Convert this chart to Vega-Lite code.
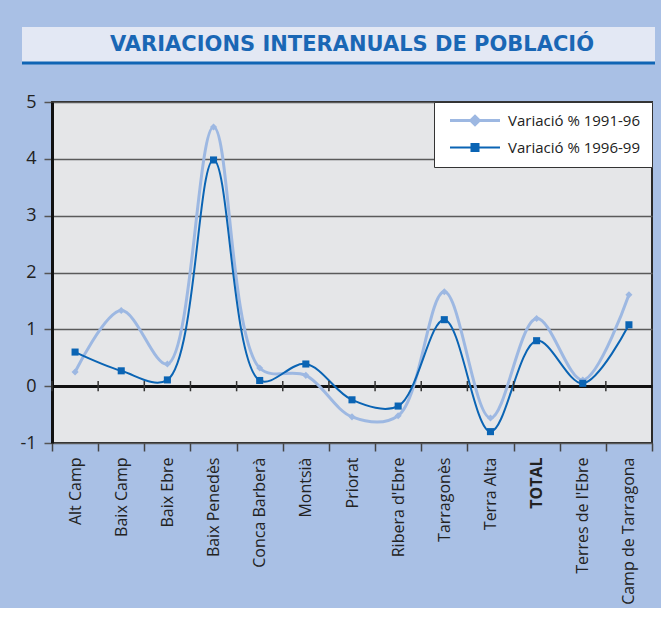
{
  "$schema": "https://vega.github.io/schema/vega-lite/v6.json",
  "background": "#a9c0e5",
  "padding": {"left": 18, "top": 27, "right": 4, "bottom": 2},
  "config": {
    "font": "Open Sans",
    "view": {"stroke": null},
    "axisX": {
      "labelAngle": -90,
      "tickBand": "extent",
      "labelFontSize": 16,
      "labelColor": "#222",
      "labelPadding": 6,
      "tickSize": 8,
      "tickColor": "#444",
      "tickWidth": 1.5,
      "domain": false,
      "grid": false
    },
    "axisY": {
      "labelFontSize": 18,
      "labelColor": "#222",
      "labelPadding": 8,
      "tickSize": 8,
      "tickColor": "#555",
      "tickWidth": 1.5,
      "domainColor": "#111",
      "domainWidth": 3,
      "grid": true
    }
  },
  "spacing": 27,
  "columns": 1,
  "align": "none",
  "resolve": {"scale": {"x": "independent", "y": "independent", "color": "independent", "fill": "independent", "shape": "independent", "strokeWidth": "independent"}, "legend": {"color": "independent"}},
  "concat": [
    {
      "width": 600,
      "height": 36,
      "view": {"fill": null, "stroke": null},
      "data": {"values": [{"t": "VARIACIONS INTERANUALS DE POBLACIÓ"}]},
      "layer": [
        {
          "mark": {"type": "rect", "fill": "#e3e8f4", "clip": false},
          "encoding": {
            "x": {"datum": -5, "type": "quantitative", "scale": {"domain": [0, 100]}, "axis": null},
            "x2": {"datum": 100.5}
          }
        },
        {
          "mark": {"type": "rule", "stroke": "#0f64b4", "strokeWidth": 3},
          "encoding": {
            "x": {"datum": -5, "type": "quantitative", "axis": null},
            "x2": {"datum": 100.5},
            "y": {"datum": 0, "type": "quantitative", "scale": {"domain": [0, 1]}, "axis": null}
          }
        },
        {
          "mark": {"type": "text", "font": "DejaVu Sans", "fontWeight": "bold", "fontSize": 21, "color": "#1a67b5", "align": "center", "baseline": "middle"},
          "encoding": {"text": {"field": "t"}}
        }
      ]
    },
    {
      "width": 600,
      "height": 341,
      "view": {"fill": "#e5e6e8", "stroke": "#2a2a2a", "strokeWidth": 2},
      "data": {
        "values": [
          {"region": "Alt Camp", "series": "Variació % 1991-96", "value": 0.25},
          {"region": "Baix Camp", "series": "Variació % 1991-96", "value": 1.33},
          {"region": "Baix Ebre", "series": "Variació % 1991-96", "value": 0.39},
          {"region": "Baix Penedès", "series": "Variació % 1991-96", "value": 4.56},
          {"region": "Conca Barberà", "series": "Variació % 1991-96", "value": 0.32},
          {"region": "Montsià", "series": "Variació % 1991-96", "value": 0.19},
          {"region": "Priorat", "series": "Variació % 1991-96", "value": -0.54},
          {"region": "Ribera d'Ebre", "series": "Variació % 1991-96", "value": -0.52},
          {"region": "Tarragonès", "series": "Variació % 1991-96", "value": 1.66},
          {"region": "Terra Alta", "series": "Variació % 1991-96", "value": -0.56},
          {"region": "TOTAL", "series": "Variació % 1991-96", "value": 1.19},
          {"region": "Terres de l'Ebre", "series": "Variació % 1991-96", "value": 0.11},
          {"region": "Camp de Tarragona", "series": "Variació % 1991-96", "value": 1.61},
          {"region": "Alt Camp", "series": "Variació % 1996-99", "value": 0.6},
          {"region": "Baix Camp", "series": "Variació % 1996-99", "value": 0.27},
          {"region": "Baix Ebre", "series": "Variació % 1996-99", "value": 0.11},
          {"region": "Baix Penedès", "series": "Variació % 1996-99", "value": 3.98},
          {"region": "Conca Barberà", "series": "Variació % 1996-99", "value": 0.1},
          {"region": "Montsià", "series": "Variació % 1996-99", "value": 0.39},
          {"region": "Priorat", "series": "Variació % 1996-99", "value": -0.24},
          {"region": "Ribera d'Ebre", "series": "Variació % 1996-99", "value": -0.35},
          {"region": "Tarragonès", "series": "Variació % 1996-99", "value": 1.17},
          {"region": "Terra Alta", "series": "Variació % 1996-99", "value": -0.8},
          {"region": "TOTAL", "series": "Variació % 1996-99", "value": 0.8},
          {"region": "Terres de l'Ebre", "series": "Variació % 1996-99", "value": 0.05},
          {"region": "Camp de Tarragona", "series": "Variació % 1996-99", "value": 1.08}
        ]
      },
      "layer": [
        {
          "mark": {"type": "line", "interpolate": "catmull-rom"},
          "encoding": {
            "x": {
              "field": "region",
              "type": "nominal",
              "sort": null,
              "title": null,
              "scale": {"type": "band", "paddingInner": 0, "paddingOuter": 0},
              "axis": {"labelFontWeight": {"condition": {"test": "datum.value === 'TOTAL'", "value": "bold"}, "value": "normal"}}
            },
            "y": {
              "field": "value",
              "type": "quantitative",
              "title": null,
              "scale": {"domain": [-1, 5], "nice": false, "zero": false},
              "axis": {
                "values": [-1, 0, 1, 2, 3, 4, 5],
                "labelExpr": "'' + datum.value",
                "gridColor": {"condition": {"test": "datum.value === 0", "value": "#111"}, "value": "#5a5a5a"},
                "gridWidth": {"condition": {"test": "datum.value === 0", "value": 3}, "value": 1.5}
              }
            },
            "color": {
              "field": "series",
              "type": "nominal",
              "scale": {"range": ["#9db8e2", "#0a64b4"]},
              "legend": {
                "title": null,
                "orient": "top-right",
                "offset": 0,
                "fillColor": "white",
                "strokeColor": "#333",
                "padding": 11,
                "rowPadding": 9,
                "labelFontSize": 15,
                "labelColor": "#222",
                "labelOffset": 48,
                "symbolSize": 100,
                "symbolStrokeWidth": 2,
                "encode": {
                  "symbols": {
                    "update": {
                      "shape": [
                        {"test": "datum.value === 'Variació % 1991-96'", "value": "M-0.5,0H9.5M4.5,-0.85L5.35,0L4.5,0.85L3.65,0Z"},
                        {"value": "M-0.5,0H9.5M3.8,-0.7H5.2V0.7H3.8Z"}
                      ],
                      "fill": [
                        {"test": "datum.value === 'Variació % 1991-96'", "value": "#9db8e2"},
                        {"value": "#0a64b4"}
                      ],
                      "stroke": [
                        {"test": "datum.value === 'Variació % 1991-96'", "value": "#9db8e2"},
                        {"value": "#0a64b4"}
                      ]
                    }
                  }
                }
              }
            },
            "strokeWidth": {"field": "series", "type": "ordinal", "scale": {"range": [3, 2]}, "legend": null}
          }
        },
        {
          "transform": [{"filter": "datum.series === 'Variació % 1991-96'"}],
          "mark": {"type": "rule", "stroke": "#333", "strokeWidth": 1.5},
          "encoding": {
            "x": {"field": "region", "type": "nominal", "sort": null, "title": null, "bandPosition": 0},
            "y": {"datum": -0.09, "type": "quantitative"},
            "y2": {"datum": 0.09}
          }
        },
        {
          "mark": {"type": "point", "filled": true, "opacity": 1, "size": 50},
          "encoding": {
            "x": {"field": "region", "type": "nominal", "sort": null, "title": null},
            "y": {"field": "value", "type": "quantitative", "title": null},
            "fill": {"field": "series", "type": "nominal", "scale": {"range": ["#9db8e2", "#0a64b4"]}, "legend": null},
            "shape": {"field": "series", "type": "nominal", "scale": {"range": ["diamond", "square"]}, "legend": null}
          }
        }
      ]
    }
  ]
}
